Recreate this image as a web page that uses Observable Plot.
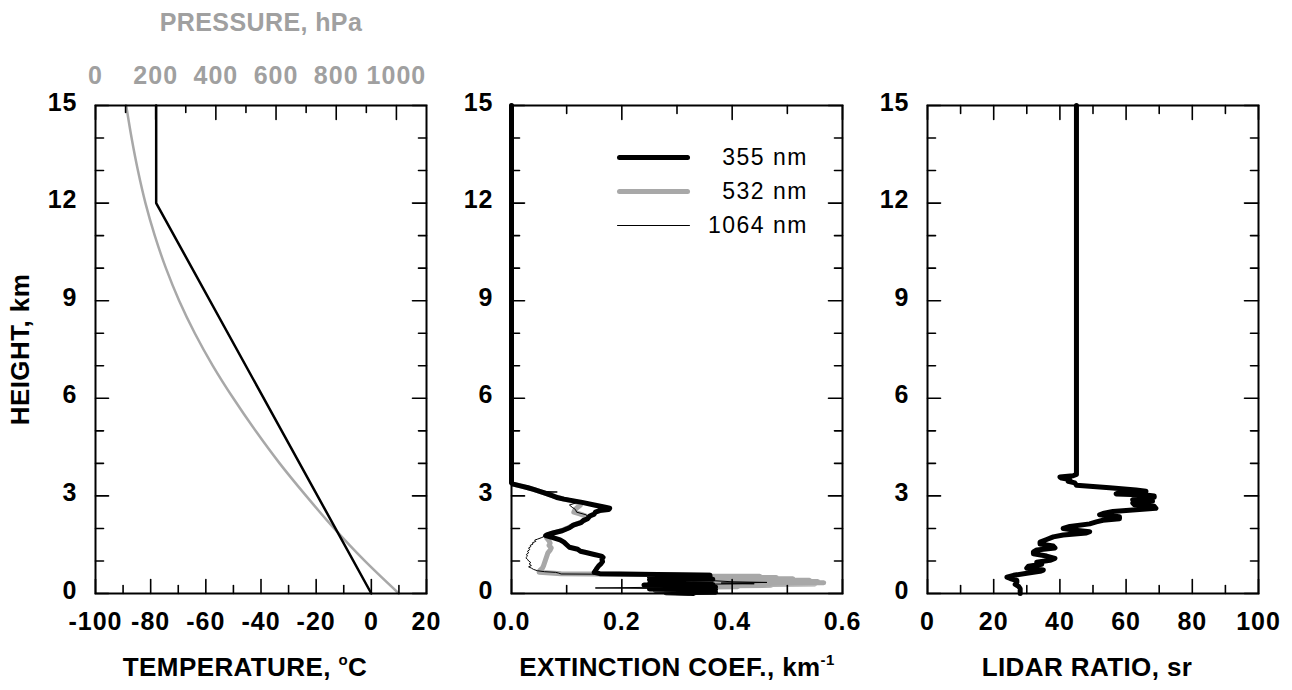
<!DOCTYPE html>
<html>
<head>
<meta charset="utf-8">
<script src="https://cdn.jsdelivr.net/npm/d3@7"></script>
<script src="https://cdn.jsdelivr.net/npm/@observablehq/plot@0.6"></script>
<style>
  body { margin: 0; background: #fff; }
  #wrap { position: relative; width: 1292px; height: 690px; overflow: hidden; background: #fff; }
  #wrap svg { position: absolute; top: 0; }
  #legend { position: absolute; left: 617px; top: 140px; width: 191px;
            font-family: "Liberation Sans", Arial, Helvetica, sans-serif; font-size: 23px; letter-spacing: 1.5px; }
  #legend .row { height: 34px; display: flex; align-items: center; justify-content: space-between; }
  #legend .sw { width: 73px; border-radius: 3px; }
</style>
</head>
<body>
<div id="wrap"></div>
<script>
// ---------------- DATA ----------------
// Panel 1: temperature (°C) and pressure (hPa) vs height (km)
const tempHeight = [0, 12, 15];
const tempValue = [0, -78, -78];
const presHeight = [0, 1, 2, 3, 4, 5, 6, 7, 8, 9, 10, 11, 12, 13, 14, 15];
const presValue = [1008, 895, 793, 700, 612, 532, 458, 390, 330, 278, 234, 197, 166, 141, 120, 102];

// Panel 2: extinction coefficient (km^-1) profiles, [height km, value]
const ext355 = [
  [15, 0], [3.40, 0], [3.36, 0.003], [3.30, 0.018], [3.25, 0.03], [3.20, 0.04], [3.10, 0.058],
  [3.00, 0.075], [2.95, 0.082], [2.90, 0.095], [2.80, 0.128], [2.72, 0.15], [2.65, 0.17],
  [2.62, 0.178], [2.58, 0.176], [2.55, 0.16], [2.50, 0.152], [2.44, 0.15], [2.38, 0.142],
  [2.30, 0.138], [2.24, 0.13], [2.18, 0.126], [2.10, 0.112], [2.02, 0.105], [1.93, 0.092],
  [1.86, 0.075], [1.80, 0.064], [1.78, 0.062], [1.72, 0.075], [1.65, 0.088], [1.58, 0.095],
  [1.50, 0.10], [1.42, 0.105], [1.36, 0.12], [1.30, 0.125], [1.26, 0.135], [1.20, 0.15],
  [1.15, 0.163], [1.11, 0.166], [1.05, 0.164], [0.98, 0.165], [0.91, 0.162], [0.85, 0.158],
  [0.78, 0.155], [0.70, 0.152], [0.65, 0.15], [0.61, 0.16], [0.58, 0.30], [0.56, 0.36],
  [0.54, 0.26], [0.52, 0.36], [0.50, 0.25], [0.48, 0.36], [0.46, 0.26], [0.44, 0.365],
  [0.42, 0.25], [0.40, 0.36], [0.38, 0.27], [0.36, 0.36], [0.34, 0.30], [0.32, 0.36],
  [0.30, 0.25], [0.28, 0.365], [0.26, 0.24], [0.24, 0.36], [0.22, 0.25], [0.20, 0.37],
  [0.18, 0.26], [0.16, 0.36], [0.14, 0.25], [0.12, 0.37], [0.10, 0.26], [0.08, 0.36],
  [0.06, 0.27], [0.04, 0.37], [0.02, 0.28], [0.00, 0.33]
];
const ext532 = [
  [15, 0], [3.40, 0], [3.36, 0.003], [3.30, 0.018], [3.20, 0.04], [3.10, 0.058], [3.00, 0.075],
  [2.90, 0.095], [2.80, 0.12], [2.72, 0.125], [2.65, 0.12], [2.58, 0.115], [2.50, 0.113],
  [2.44, 0.125], [2.38, 0.135], [2.30, 0.135], [2.20, 0.128], [2.10, 0.112], [2.00, 0.10],
  [1.93, 0.09], [1.85, 0.074], [1.78, 0.062], [1.70, 0.064], [1.62, 0.068], [1.55, 0.07],
  [1.48, 0.068], [1.40, 0.072], [1.33, 0.07], [1.25, 0.066], [1.15, 0.064], [1.05, 0.062],
  [0.95, 0.06], [0.85, 0.058], [0.78, 0.056], [0.72, 0.052], [0.68, 0.05], [0.65, 0.05],
  [0.63, 0.07], [0.61, 0.09], [0.59, 0.20], [0.57, 0.36], [0.55, 0.30], [0.53, 0.45],
  [0.51, 0.31], [0.49, 0.48], [0.47, 0.32], [0.45, 0.51], [0.43, 0.33], [0.41, 0.54],
  [0.39, 0.34], [0.37, 0.555], [0.35, 0.35], [0.33, 0.566], [0.31, 0.36], [0.29, 0.55],
  [0.27, 0.36], [0.25, 0.47], [0.23, 0.35], [0.21, 0.41], [0.19, 0.30], [0.16, 0.34],
  [0.12, 0.28], [0.08, 0.34], [0.04, 0.29], [0.00, 0.32]
];
const ext1064 = [
  [15, 0], [3.40, 0], [3.36, 0.003], [3.30, 0.02], [3.20, 0.04], [3.14, 0.06], [3.12, 0.083],
  [3.10, 0.06], [3.00, 0.078], [2.90, 0.098], [2.80, 0.12], [2.72, 0.105], [2.65, 0.11],
  [2.58, 0.116], [2.50, 0.118], [2.42, 0.135], [2.34, 0.14], [2.25, 0.13], [2.15, 0.12],
  [2.05, 0.105], [1.95, 0.09], [1.85, 0.072], [1.78, 0.062], [1.72, 0.055], [1.67, 0.047],
  [1.64, 0.042], [1.60, 0.044], [1.56, 0.038], [1.52, 0.039], [1.48, 0.034], [1.44, 0.035],
  [1.40, 0.031], [1.35, 0.033], [1.30, 0.029], [1.25, 0.031], [1.20, 0.027], [1.15, 0.029],
  [1.10, 0.026], [1.05, 0.029], [1.00, 0.031], [0.95, 0.035], [0.91, 0.032], [0.86, 0.036],
  [0.82, 0.031], [0.78, 0.036], [0.74, 0.04], [0.70, 0.047], [0.67, 0.06], [0.65, 0.08],
  [0.63, 0.085], [0.60, 0.09], [0.58, 0.30], [0.56, 0.36], [0.52, 0.30], [0.48, 0.36],
  [0.44, 0.30], [0.40, 0.36], [0.36, 0.40], [0.34, 0.463], [0.32, 0.38], [0.30, 0.44],
  [0.28, 0.30], [0.24, 0.36], [0.20, 0.30], [0.17, 0.152], [0.14, 0.36], [0.10, 0.30],
  [0.05, 0.36], [0.00, 0.33]
];

// Panel 3: lidar ratio (sr), [height km, value]
const lidarRatio = [
  [15, 45], [3.66, 45], [3.62, 44], [3.58, 40], [3.55, 40.5], [3.50, 43], [3.45, 42.5],
  [3.40, 44.5], [3.33, 45], [3.25, 55], [3.18, 63], [3.14, 66], [3.10, 58], [3.06, 57],
  [3.03, 66], [3.00, 68.5], [2.96, 68.5], [2.92, 63], [2.88, 62], [2.84, 68], [2.78, 62],
  [2.73, 62.5], [2.68, 68.5], [2.62, 69], [2.58, 64], [2.52, 56], [2.46, 53], [2.42, 52],
  [2.36, 58], [2.30, 58], [2.25, 53], [2.20, 51], [2.14, 49], [2.06, 43], [2.00, 41],
  [1.95, 44], [1.90, 49], [1.86, 48], [1.80, 41], [1.74, 38], [1.66, 36], [1.58, 34],
  [1.52, 34], [1.46, 38], [1.40, 38.5], [1.34, 33], [1.28, 32], [1.22, 32], [1.15, 36],
  [1.08, 38.5], [1.02, 37], [0.96, 33], [0.90, 34.5], [0.84, 30.5], [0.78, 30], [0.72, 35],
  [0.68, 34], [0.62, 30], [0.56, 26], [0.50, 24], [0.46, 25], [0.40, 27], [0.34, 27],
  [0.28, 26.5], [0.22, 27.5], [0.15, 28], [0.05, 28], [0, 28]
];

// Tick values and labels
const heightTicks = [0, 3, 6, 9, 12, 15];
const heightMinor = [1, 2, 4, 5, 7, 8, 10, 11, 13, 14];
const tempTicks = [-100, -80, -60, -40, -20, 0, 20];
const tempMinor = [-90, -70, -50, -30, -10, 10];
const presTicks = [0, 200, 400, 600, 800, 1000];
const presMinor = [100, 300, 500, 700, 900];
const extTicks = [0, 0.2, 0.4, 0.6];
const extMinor = [0.1, 0.3, 0.5];
const lrTicks = [0, 20, 40, 60, 80, 100];
const lrMinor = [10, 30, 50, 70, 90];

const legendItems = [
  {label: "355 nm", color: "#000", width: 5},
  {label: "532 nm", color: "#a8a8a8", width: 5},
  {label: "1064 nm", color: "#000", width: 1}
];

// ---------------- LAYOUT ----------------
const H = 690, MT = 105, MB = 97;
const PW = 331, PH = H - MT - MB;
const YMAX = 15;
const FONT = "'Liberation Sans', Arial, Helvetica, sans-serif";
const GREY = "#a8a8a8", GREYTXT = "#a0a0a0";
const svgStyle = `background: transparent; overflow: visible; font-family: ${FONT}; font-size: 25px; font-weight: bold; letter-spacing: 1px;`;

// Inward tick segments, drawn as short line paths through the panel's own scales
function tickMarks(xDomain, xMajor, xMinor, xAnchors, withY = true, minorLen = 8) {
  const [x0, x1] = xDomain;
  const ux = (x1 - x0) / PW, uy = YMAX / PH;
  const segs = [];
  let k = 0;
  const addX = (v, len, bottom) => {
    segs.push({x: v, y: bottom ? 0 : YMAX, k}, {x: v, y: bottom ? len * uy : YMAX - len * uy, k});
    k++;
  };
  const addY = (v, len, left) => {
    segs.push({x: left ? x0 : x1, y: v, k}, {x: left ? x0 + len * ux : x1 - len * ux, y: v, k});
    k++;
  };
  for (const a of xAnchors) {
    for (const v of xMinor) addX(v, minorLen, a === "bottom");
    for (const v of xMajor) addX(v, 14, a === "bottom");
  }
  if (withY) {
    for (const v of heightMinor) { addY(v, 8, true); addY(v, 8, false); }
    for (const v of heightTicks) { addY(v, 13, true); addY(v, 14, false); }
  }
  return Plot.line(segs, {x: "x", y: "y", z: "k", stroke: "#000", strokeWidth: 1.6});
}
function yLabels() {
  return Plot.axisY(heightTicks, {anchor: "left", tickSize: 0, tickPadding: 18, dy: -3, fill: "#000", tickFormat: d => String(d), label: null});
}
function xLabels(major, fmt) {
  return Plot.axisX(major, {anchor: "bottom", tickSize: 0, tickPadding: 28, lineAnchor: "middle", fill: "#000", tickFormat: fmt, label: null});
}
function title(t, dx = 0) {
  return Plot.text([t], {text: d => d, frameAnchor: "bottom", dy: 74, dx, lineAnchor: "middle", textAnchor: "middle", fontSize: 26, fontWeight: "bold", fill: "#000"});
}
function superscript(svg, full, base, sup, after) {
  d3.select(svg).selectAll("text").filter(function () { return this.textContent === full; }).each(function () {
    const t = d3.select(this);
    t.text(null);
    t.append("tspan").text(base);
    t.append("tspan").attr("dy", "-11").attr("font-size", "15px").text(sup);
    if (after) t.append("tspan").attr("dy", "11").text(after);
  });
}
function tightTitles(svg, list) {
  d3.select(svg).selectAll("text").filter(function () { return list.includes(this.textContent); })
    .style("letter-spacing", "0.4px");
}
function place(svg, left) { svg.style.left = left + "px"; wrap.appendChild(svg); }

const wrap = document.getElementById("wrap");
const yScale = {domain: [0, YMAX], axis: null};
const toObj = arr => arr.map(([h, v]) => ({h, v}));

// Panel 1a: pressure (top axis)
const presDomain = [0, 1100];
const pPres = Plot.plot({
  width: 450, height: H, marginLeft: 95, marginRight: 450 - 426, marginTop: MT, marginBottom: MB,
  style: svgStyle,
  x: {domain: presDomain, axis: null}, y: yScale,
  marks: [
    Plot.line(presHeight.map((h, i) => ({h, p: presValue[i]})), {x: "p", y: "h", stroke: GREY, strokeWidth: 2.5, curve: "monotone-y"}),
    tickMarks(presDomain, presTicks, presMinor, ["top"], false, 7),
    Plot.axisX(presTicks, {anchor: "top", tickSize: 0, tickPadding: 30, lineAnchor: "middle", fill: GREYTXT, tickFormat: d => String(d), label: null}),
    Plot.text(["PRESSURE, hPa"], {text: d => d, frameAnchor: "top", dy: -83, lineAnchor: "middle", textAnchor: "middle", fontSize: 25, fontWeight: "bold", fill: GREYTXT})
  ]
});
tightTitles(pPres, ["PRESSURE, hPa"]);
place(pPres, 0);

// Panel 1b: temperature
const tempDomain = [-100, 20];
const pTemp = Plot.plot({
  width: 450, height: H, marginLeft: 95, marginRight: 450 - 426, marginTop: MT, marginBottom: MB,
  style: svgStyle,
  x: {domain: tempDomain, axis: null}, y: yScale,
  marks: [
    Plot.line(tempHeight.map((h, i) => ({h, t: tempValue[i]})), {x: "t", y: "h", stroke: "#000", strokeWidth: 2.5}),
    Plot.frame({stroke: "#000", strokeWidth: 2}),
    tickMarks(tempDomain, tempTicks, tempMinor, ["bottom"]),
    yLabels(),
    xLabels(tempTicks, d => String(d)),
    title("TEMPERATURE, °C", -16),
    Plot.text(["HEIGHT, km"], {text: d => d, frameAnchor: "left", dx: -75, rotate: -90, lineAnchor: "middle", textAnchor: "middle", fontSize: 26, fontWeight: "bold", fill: "#000"})
  ]
});
tightTitles(pTemp, ["TEMPERATURE, °C", "HEIGHT, km"]);
superscript(pTemp, "TEMPERATURE, °C", "TEMPERATURE, ", "o", "C");
place(pTemp, 0);

// Panel 2: extinction
const extDomain = [0, 0.6];
const pExt = Plot.plot({
  width: 430, height: H, marginLeft: 511 - 450, marginRight: 880 - 842, marginTop: MT, marginBottom: MB,
  style: svgStyle,
  x: {domain: extDomain, axis: null}, y: yScale,
  marks: [
    Plot.line(toObj(ext532), {x: "v", y: "h", stroke: GREY, strokeWidth: 5, strokeLinejoin: "round"}),
    Plot.line(toObj(ext355), {x: "v", y: "h", stroke: "#000", strokeWidth: 5, strokeLinejoin: "round"}),
    Plot.line(toObj(ext1064), {x: "v", y: "h", stroke: "#000", strokeWidth: 1}),
    Plot.frame({stroke: "#000", strokeWidth: 2}),
    tickMarks(extDomain, extTicks, extMinor, ["bottom", "top"]),
    yLabels(),
    xLabels(extTicks, d3.format(".1f")),
    title("EXTINCTION COEF., km-1")
  ]
});
tightTitles(pExt, ["EXTINCTION COEF., km-1"]);
superscript(pExt, "EXTINCTION COEF., km-1", "EXTINCTION COEF., km", "-1", null);
place(pExt, 450);

// Panel 3: lidar ratio
const lrDomain = [0, 100];
const pLR = Plot.plot({
  width: 412, height: H, marginLeft: 927 - 880, marginRight: 1292 - 1258, marginTop: MT, marginBottom: MB,
  style: svgStyle,
  x: {domain: lrDomain, axis: null}, y: yScale,
  marks: [
    Plot.line(toObj(lidarRatio), {x: "v", y: "h", stroke: "#000", strokeWidth: 5, strokeLinejoin: "round"}),
    Plot.frame({stroke: "#000", strokeWidth: 2}),
    tickMarks(lrDomain, lrTicks, lrMinor, ["bottom", "top"]),
    yLabels(),
    xLabels(lrTicks, d => String(d)),
    title("LIDAR RATIO, sr", -6)
  ]
});
tightTitles(pLR, ["LIDAR RATIO, sr"]);
place(pLR, 880);

// Legend
const legend = document.createElement("div");
legend.id = "legend";
for (const it of legendItems) {
  const row = document.createElement("div");
  row.className = "row";
  const sw = document.createElement("div");
  sw.className = "sw";
  sw.style.height = it.width + "px";
  sw.style.background = it.color;
  const lab = document.createElement("span");
  lab.textContent = it.label;
  row.appendChild(sw);
  row.appendChild(lab);
  legend.appendChild(row);
}
wrap.appendChild(legend);
</script>
</body>
</html>
